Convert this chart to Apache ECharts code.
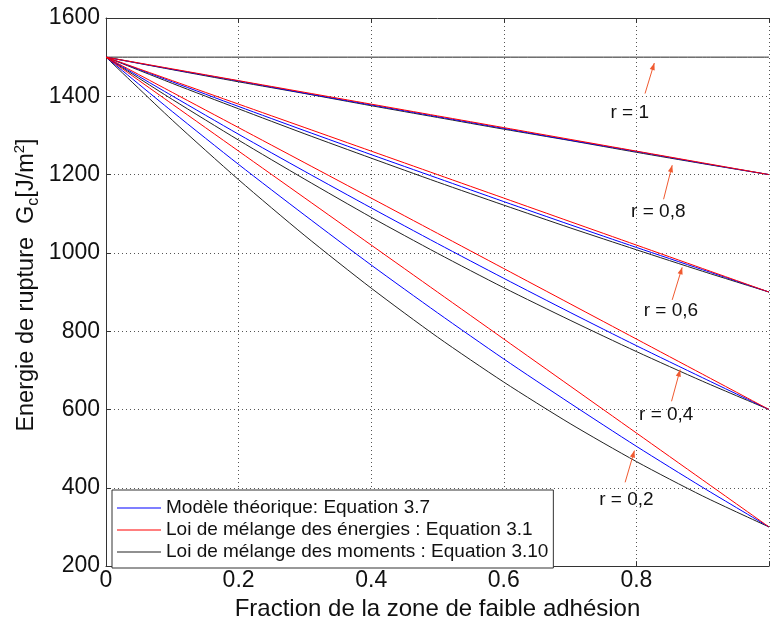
<!DOCTYPE html>
<html>
<head>
<meta charset="utf-8">
<script src="https://cdn.jsdelivr.net/npm/echarts@6/dist/echarts.min.js"></script>
<style>
html,body{margin:0;padding:0;background:#fff;}
#chart{width:772px;height:626px;}
</style>
</head>
<body>
<div id="chart"></div>
<script>
// ---- data ----
const xValues = [0, 0.1, 0.2, 0.3, 0.4, 0.5, 0.6, 0.7, 0.8, 0.9, 1.0];
const xTicks = ['0', '0.2', '0.4', '0.6', '0.8'];
const yTicks = [200, 400, 600, 800, 1000, 1200, 1400, 1600];
const rLabels = ['r = 1', 'r = 0,8', 'r = 0,6', 'r = 0,4', 'r = 0,2'];

const seriesNames = [
  'Modèle théorique: Equation 3.7',
  'Loi de mélange des énergies : Equation 3.1',
  'Loi de mélange des moments : Equation 3.10'
];

// Modèle théorique (blue)
const theo_r02 = [1500, 1361, 1226, 1096, 969, 847, 729, 616, 506, 401, 300];
const theo_r04 = [1500, 1401, 1303, 1208, 1115, 1024, 935, 848, 763, 681, 600];
const theo_r06 = [1500, 1437, 1374, 1312, 1251, 1191, 1131, 1072, 1014, 957, 900];
const theo_r08 = [1500, 1469, 1439, 1408, 1378, 1348, 1318, 1288, 1259, 1229, 1200];

// Loi de mélange des énergies (red)
const ener_r02 = [1500, 1380, 1260, 1140, 1020, 900, 780, 660, 540, 420, 300];
const ener_r04 = [1500, 1410, 1320, 1230, 1140, 1050, 960, 870, 780, 690, 600];
const ener_r06 = [1500, 1440, 1380, 1320, 1260, 1200, 1140, 1080, 1020, 960, 900];
const ener_r08 = [1500, 1470, 1440, 1410, 1380, 1350, 1320, 1290, 1260, 1230, 1200];

// Loi de mélange des moments (black)
const mom_r02 = [1500, 1339, 1187, 1044, 910, 785, 670, 564, 467, 379, 300];
const mom_r04 = [1500, 1392, 1288, 1188, 1091, 999, 911, 828, 748, 672, 600];
const mom_r06 = [1500, 1433, 1368, 1304, 1242, 1181, 1122, 1064, 1008, 953, 900];
const mom_r08 = [1500, 1468, 1437, 1407, 1376, 1346, 1316, 1287, 1257, 1228, 1200];
const mom_r10 = [1500, 1500, 1500, 1500, 1500, 1500, 1500, 1500, 1500, 1500, 1500];

// annotation anchors (data units)
const annText = [[0.790, 1359], [0.833, 1106], [0.852, 851], [0.845, 587], [0.785, 370]];
const annFrom = [[0.813, 1407], [0.841, 1137], [0.854, 880], [0.853, 621], [0.783, 414]];
const annTo   = [[0.827, 1485], [0.854, 1224], [0.869, 963], [0.866, 702], [0.797, 495]];

// ---- chart ----
const FONT = '"Liberation Sans", Arial, Helvetica, sans-serif';
const COLORS = ['#0000ff', '#ff0000', '#222222'];

function pairs(ys) { return xValues.map((x, i) => [x, ys[i]]); }
function mk(name, color, ys) {
  return {
    type: 'line', name: name, data: pairs(ys), symbol: 'none', smooth: 0.25,
    lineStyle: { color: color, width: 1 }, itemStyle: { color: color },
    emphasis: { disabled: true }, animation: false, silent: true
  };
}

const series = [];
[mom_r10, mom_r08, mom_r06, mom_r04, mom_r02].forEach(d => series.push(mk(seriesNames[2], COLORS[2], d)));
[theo_r08, theo_r06, theo_r04, theo_r02].forEach(d => series.push(mk(seriesNames[0], COLORS[0], d)));
[ener_r08, ener_r06, ener_r04, ener_r02].forEach(d => series.push(mk(seriesNames[1], COLORS[1], d)));

const chart = echarts.init(document.getElementById('chart'), null, { renderer: 'canvas' });

const axisLineStyle = { color: '#333', width: 1 };
const gridStyle = { type: [1, 3], color: '#555', width: 1 };

chart.setOption({
  animation: false,
  backgroundColor: '#fff',
  textStyle: { fontFamily: FONT },
  grid: { left: 106, right: -4, top: 18, bottom: 50, containLabel: false },
  xAxis: [{
    type: 'value', min: 0, max: 1, interval: 0.2, position: 'bottom',
    axisLine: { show: true, lineStyle: axisLineStyle },
    axisTick: { show: true, inside: true, length: 5, lineStyle: axisLineStyle },
    axisLabel: { fontSize: 23, color: '#111', margin: 3, fontFamily: FONT,
      formatter: v => { const i = Math.round(v / 0.2); return i < xTicks.length ? xTicks[i] : ''; } },
    splitLine: { show: true, lineStyle: gridStyle },
    name: 'Fraction de la zone de faible adhésion', nameLocation: 'middle', nameGap: 24,
    nameTextStyle: { fontSize: 24, color: '#111', fontFamily: FONT }
  }, {
    type: 'value', min: 0, max: 1, interval: 0.2, position: 'top',
    axisLine: { show: true, lineStyle: axisLineStyle },
    axisTick: { show: true, inside: true, length: 5, lineStyle: axisLineStyle },
    axisLabel: { show: false }, splitLine: { show: false }
  }],
  yAxis: [{
    type: 'value', min: yTicks[0], max: yTicks[yTicks.length - 1], interval: 200,
    axisLine: { show: true, lineStyle: axisLineStyle },
    axisTick: { show: true, inside: true, length: 5, lineStyle: axisLineStyle },
    axisLabel: { fontSize: 23, color: '#111', margin: 6, fontFamily: FONT,
      formatter: v => String(v) },
    splitLine: { show: true, lineStyle: gridStyle }
  }],
  legend: {
    data: seriesNames.map(n => ({ name: n, icon: 'rect' })),
    orient: 'vertical', left: 112, top: 490,
    itemWidth: 44, itemHeight: 1, itemGap: 2,
    padding: [8, 5, 6, 5],
    backgroundColor: '#fff', borderColor: '#333', borderWidth: 1, borderRadius: 0,
    textStyle: { fontSize: 19, color: '#111', fontFamily: FONT, lineHeight: 20 },
    selectedMode: false
  },
  series: series
});

// annotations (arrows + labels) placed in data coordinates
const graphics = [];
const ARROW = '#f05a30';
for (let i = 0; i < rLabels.length; i++) {
  const p = chart.convertToPixel({ gridIndex: 0 }, annText[i]);
  const a = chart.convertToPixel({ gridIndex: 0 }, annFrom[i]);
  const b = chart.convertToPixel({ gridIndex: 0 }, annTo[i]);
  graphics.push({
    type: 'text', x: p[0], y: p[1], z: 100,
    style: { text: rLabels[i], fill: '#111', font: '19px ' + FONT, align: 'center', verticalAlign: 'middle' }
  });
  graphics.push({
    type: 'line', z: 100,
    shape: { x1: a[0], y1: a[1], x2: b[0], y2: b[1] },
    style: { stroke: ARROW, lineWidth: 1 }
  });
  const ang = Math.atan2(b[1] - a[1], b[0] - a[0]);
  const L = 7, W = 2.6;
  const bx = b[0] - L * Math.cos(ang), by = b[1] - L * Math.sin(ang);
  const nx = -Math.sin(ang), ny = Math.cos(ang);
  graphics.push({
    type: 'polygon', z: 100,
    shape: { points: [[b[0], b[1]], [bx + W * nx, by + W * ny], [bx - W * nx, by - W * ny]] },
    style: { fill: ARROW, stroke: null }
  });
}
// rotated y-axis title with subscript / superscript
graphics.push({
  type: 'text', x: 27, y: 285, rotation: Math.PI / 2, z: 100,
  style: {
    text: '{a|Energie de rupture  G}{b|c}{a|[J/m}{s|2}{a|]}',
    align: 'center', verticalAlign: 'middle', fill: '#111',
    rich: {
      a: { fontSize: 23.5, fontFamily: FONT, fill: '#111' },
      b: { fontSize: 16, fontFamily: FONT, fill: '#111', padding: [14, 0, 0, 0] },
      s: { fontSize: 15, fontFamily: FONT, fill: '#111', padding: [0, 0, 14, 0] }
    }
  }
});
chart.setOption({ graphic: graphics });
</script>
</body>
</html>
